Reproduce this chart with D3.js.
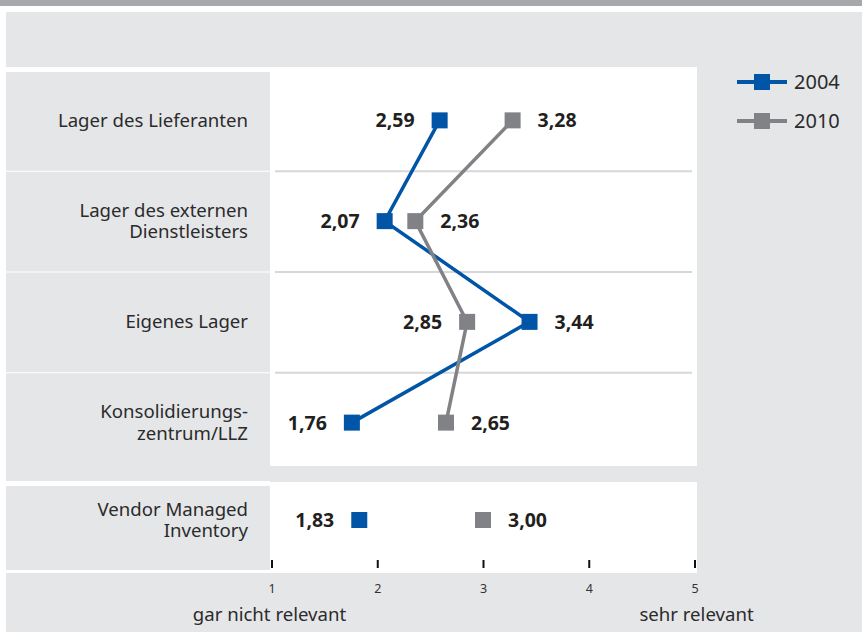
<!DOCTYPE html>
<html>
<head>
<meta charset="utf-8">
<script src="https://cdn.jsdelivr.net/npm/d3@7"></script>
<style>
  body { margin: 0; background: #fff; }
  svg { display: block; font-family: "Noto Sans", "Open Sans", sans-serif; }
</style>
</head>
<body>
<div id="chart"></div>
<script>
// rows of the main group, labels split into lines as in the original
const CATEGORIES = [
  ["Lager des Lieferanten"],
  ["Lager des externen", "Dienstleisters"],
  ["Eigenes Lager"],
  ["Konsolidierungs-", "zentrum/LLZ"]
];
const VALUES_2004 = [2.59, 2.07, 3.44, 1.76];
const VALUES_2010 = [3.28, 2.36, 2.85, 2.65];

// separate row below
const EXTRA_CATEGORY = ["Vendor Managed", "Inventory"];
const EXTRA_2004 = 1.83;
const EXTRA_2010 = 3.00;

const SERIES = ["2004", "2010"];
const TICKS = [1, 2, 3, 4, 5];
const AXIS_LABELS = ["gar nicht relevant", "sehr relevant"];

const W = 862, H = 632;
const GRAY = "#e5e6e8";
const BLUE = "#0055a6";
const DARKGRAY = "#818285";
const TEXT = "#2b2b2b";
const FS = 18.6;
const COLORS = d3.scaleOrdinal().domain(SERIES).range([BLUE, DARKGRAY]);
const fmt = v => v.toFixed(2).replace(".", ",");

const svg = d3.select("#chart").append("svg")
  .attr("width", W).attr("height", H);

// background panels
svg.append("rect").attr("x", 0).attr("y", 0).attr("width", W).attr("height", 6).attr("fill", "#a7a8ab");
svg.append("rect").attr("x", 6).attr("y", 12).attr("width", W - 6).attr("height", 55).attr("fill", GRAY);
svg.append("rect").attr("x", 697).attr("y", 12).attr("width", W - 697).attr("height", 561).attr("fill", GRAY);
svg.append("rect").attr("x", 270).attr("y", 466).attr("width", 427).attr("height", 16).attr("fill", GRAY);
svg.append("rect").attr("x", 6).attr("y", 573).attr("width", W - 6).attr("height", H - 573).attr("fill", GRAY);

const x = d3.scaleLinear().domain([1, 5]).range([271.5, 694.5]);
const y = d3.scaleBand().domain(d3.range(CATEGORIES.length)).range([70, 473]);
const yExtra = 520;

// label panels
const rows = d3.range(CATEGORIES.length);
svg.selectAll(".label-bg").data(rows).join("rect")
  .attr("class", "label-bg")
  .attr("x", 6)
  .attr("y", i => i === 0 ? 72 : y(i) + 1)
  .attr("width", 264)
  .attr("height", i => (i === rows.length - 1 ? 481 : y(i) + y.bandwidth()) - (i === 0 ? 72 : y(i) + 1))
  .attr("fill", GRAY);
svg.append("rect").attr("x", 6).attr("y", 486).attr("width", 264).attr("height", 84).attr("fill", GRAY);

// separators inside plot
svg.selectAll(".sep").data(rows.slice(1)).join("line")
  .attr("class", "sep")
  .attr("x1", 275).attr("x2", 692)
  .attr("y1", i => y(i) + 0.5).attr("y2", i => y(i) + 0.5)
  .attr("stroke", "#d6d7d9").attr("stroke-width", 2);

// category labels, one text per line
const drawLabel = (lines, cy) => {
  const lh = 21.5;
  lines.forEach((line, k) => {
    svg.append("text")
      .attr("x", 248)
      .attr("y", cy + 6.5 + (k - (lines.length - 1) / 2) * lh)
      .attr("text-anchor", "end")
      .attr("font-size", FS)
      .attr("fill", TEXT)
      .text(line);
  });
};
CATEGORIES.forEach((lines, i) => drawLabel(lines, y(i) + y.bandwidth() / 2));
drawLabel(EXTRA_CATEGORY, yExtra);

// lines
const cy = i => y(i) + y.bandwidth() / 2;
const seriesData = [
  { name: "2004", values: VALUES_2004 },
  { name: "2010", values: VALUES_2010 }
];
const line = d3.line().x(d => x(d.v)).y(d => cy(d.i));
svg.selectAll(".series-line").data(seriesData).join("path")
  .attr("class", "series-line")
  .attr("d", s => line(s.values.map((v, i) => ({ v, i }))))
  .attr("fill", "none")
  .attr("stroke", s => COLORS(s.name))
  .attr("stroke-width", 3.5);

// markers
const SQ = 16;
const points = [];
seriesData.forEach(s => s.values.forEach((v, i) => points.push({ name: s.name, v, cy: cy(i) })));
points.push({ name: "2004", v: EXTRA_2004, cy: yExtra });
points.push({ name: "2010", v: EXTRA_2010, cy: yExtra });

svg.selectAll(".marker").data(points).join("rect")
  .attr("class", "marker")
  .attr("x", d => x(d.v) - SQ / 2)
  .attr("y", d => d.cy - SQ / 2)
  .attr("width", SQ).attr("height", SQ)
  .attr("fill", d => COLORS(d.name));

// value labels: lower value on the left, higher on the right
const labelData = [];
CATEGORIES.forEach((c, i) => {
  const a = VALUES_2004[i], b = VALUES_2010[i];
  labelData.push({ v: Math.min(a, b), cy: cy(i), side: -1 });
  labelData.push({ v: Math.max(a, b), cy: cy(i), side: 1 });
});
labelData.push({ v: Math.min(EXTRA_2004, EXTRA_2010), cy: yExtra, side: -1 });
labelData.push({ v: Math.max(EXTRA_2004, EXTRA_2010), cy: yExtra, side: 1 });

svg.selectAll(".value").data(labelData).join("text")
  .attr("class", "value")
  .attr("x", d => x(d.v) + d.side * 25)
  .attr("y", d => d.cy + 7)
  .attr("text-anchor", d => d.side < 0 ? "end" : "start")
  .attr("font-size", 19.5)
  .attr("font-weight", "bold")
  .attr("fill", "#231f20")
  .text(d => fmt(d.v));

// axis
const axis = svg.append("g")
  .attr("transform", "translate(0,560)")
  .call(d3.axisBottom(x).tickValues(TICKS).tickSize(8).tickPadding(16).tickFormat(d3.format("d")));
axis.select(".domain").remove();
axis.selectAll(".tick line").attr("stroke", "#111").attr("stroke-width", 2);
axis.selectAll(".tick text")
  .attr("font-family", "Noto Sans, sans-serif")
  .attr("font-size", 12.5)
  .attr("fill", "#333");

svg.selectAll(".axis-label").data(AXIS_LABELS).join("text")
  .attr("class", "axis-label")
  .attr("x", (d, i) => i === 0 ? x(1) - 2 : x(5) + 2)
  .attr("y", 621)
  .attr("text-anchor", "middle")
  .attr("font-size", FS)
  .attr("fill", TEXT)
  .text(d => d);

// legend
const legend = svg.selectAll(".legend").data(SERIES).join("g")
  .attr("class", "legend")
  .attr("transform", (d, i) => `translate(737,${82 + i * 39})`);
legend.append("line")
  .attr("x1", 0).attr("x2", 50)
  .attr("stroke", d => COLORS(d)).attr("stroke-width", 4);
legend.append("rect")
  .attr("x", 25 - SQ / 2).attr("y", -SQ / 2)
  .attr("width", SQ).attr("height", SQ)
  .attr("fill", d => COLORS(d));
legend.append("text")
  .attr("x", 57).attr("y", 7)
  .attr("font-size", 20)
  .attr("fill", TEXT)
  .text(d => d);
</script>
</body>
</html>
